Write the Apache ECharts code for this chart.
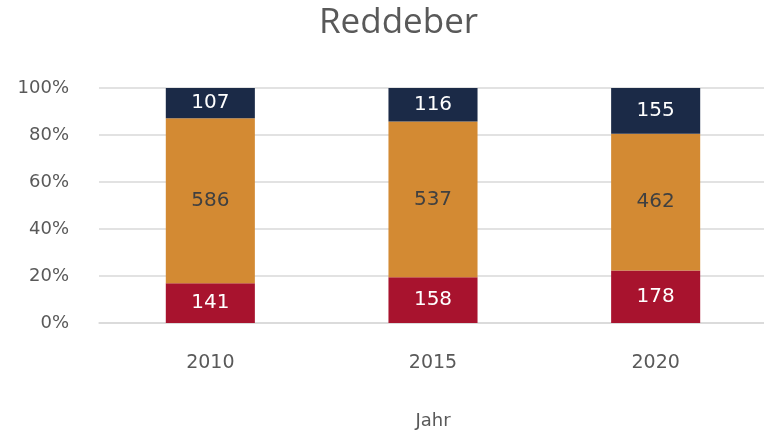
<!DOCTYPE html>
<html>
<head>
<meta charset="utf-8">
<script src="https://cdn.jsdelivr.net/npm/echarts@6/dist/echarts.min.js"></script>
<style>
  html, body { margin: 0; padding: 0; background: #fff; }
  #chart { width: 764px; height: 436px; }
</style>
</head>
<body>
<div id="chart"></div>
<script>
var years = ['2010', '2015', '2020'];
var redValues = [141, 158, 178];
var orangeValues = [586, 537, 462];
var navyValues = [107, 116, 155];
var yTicks = [0, 20, 40, 60, 80, 100];

var totals = years.map(function (y, i) {
    return redValues[i] + orangeValues[i] + navyValues[i];
});
function toPct(arr) {
    return arr.map(function (v, i) {
        return { value: v / totals[i] * 100, raw: v };
    });
}

var labelFont = 'DejaVu Sans';
function makeSeries(name, values, color, textColor) {
    return {
        name: name,
        type: 'bar',
        stack: 'all',
        barWidth: '40%',
        itemStyle: { color: color },
        label: {
            show: true,
            position: 'inside',
            color: textColor,
            fontFamily: labelFont,
            fontSize: 20,
            formatter: function (p) { return p.data.raw; }
        },
        data: toPct(values)
    };
}

var myChart = echarts.init(document.getElementById('chart'));
var option = {
    animation: false,
    title: {
        text: 'Reddeber',
        left: 314,
        top: 1,
        textStyle: {
            color: '#595959',
            fontFamily: 'Open Sans',
            fontWeight: 'normal',
            fontSize: 35
        }
    },
    grid: {
        left: 99,
        right: -3,
        top: 88,
        bottom: 113,
        outerBoundsMode: 'none'
    },
    xAxis: {
        type: 'category',
        data: years,
        name: 'Jahr',
        nameLocation: 'middle',
        nameGap: 89,
        nameTextStyle: { color: '#595959', fontFamily: labelFont, fontSize: 18 },
        axisLine: { show: true, lineStyle: { color: '#d9d9d9', width: 1.5 } },
        axisTick: { show: false },
        axisLabel: { color: '#595959', fontFamily: labelFont, fontSize: 19, margin: 31 }
    },
    yAxis: {
        type: 'value',
        min: yTicks[0],
        max: yTicks[yTicks.length - 1],
        interval: 20,
        axisLine: { show: false },
        axisTick: { show: false },
        axisLabel: {
            color: '#595959',
            fontFamily: labelFont,
            fontSize: 18,
            margin: 30,
            formatter: '{value}%'
        },
        splitLine: { lineStyle: { color: '#d9d9d9', width: 1.5 } }
    },
    series: [
        makeSeries('Rot', redValues, '#a8132e', '#ffffff'),
        makeSeries('Orange', orangeValues, '#d38a33', '#404040'),
        makeSeries('Blau', navyValues, '#1b2a47', '#ffffff')
    ]
};
myChart.setOption(option);
</script>
</body>
</html>
